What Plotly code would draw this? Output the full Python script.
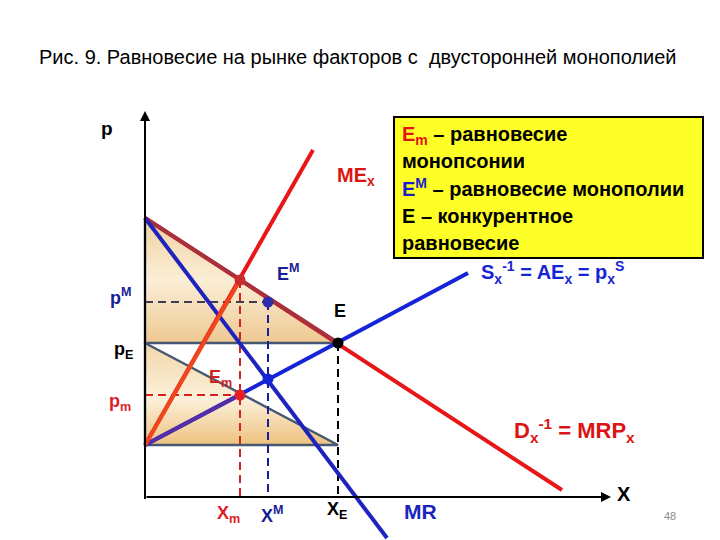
import plotly.graph_objects as go

# model values (x = quantity of factor, p = price); origin at the axes crossing
d_x = [0, 41.7]          # demand D^-1 = MRP
d_p = [27.9, 0.7]
mr_x = [0, 24.2]         # marginal revenue
mr_p = [27.9, -4.1]
s_x = [0, 32.3]          # supply S^-1 = AE
s_p = [5.2, 22.4]
mex_x = [0, 16.8]        # marginal expense
mex_p = [5.2, 34.7]

x_m, x_M, x_E = 9.5, 12.3, 19.3
p_m, p_M, p_E = 10.2, 19.5, 15.4
p_EM = 21.7              # point E^M on the demand curve
p_XM = 11.8              # crossing of MR and S
p_top, p_low = 27.9, 5.2

RED = "rgb(232,22,22)"
BLUE = "rgb(22,36,215)"
NAVY = "rgb(25,30,150)"
SLATE = "rgb(70,88,115)"
FONT = "Liberation Sans"
DASH = "8px,5px"

fig = go.Figure()


def line(xs, ys, color, width=4, dash=None):
    fig.add_trace(go.Scatter(x=xs, y=ys, mode="lines",
                             line=dict(color=color, width=width, dash=dash),
                             hoverinfo="skip", showlegend=False))


# shaded triangles
fig.add_trace(go.Scatter(x=[0, x_E, 0, 0], y=[p_top, p_E, p_E, p_top], mode="lines",
                         fill="toself", line=dict(color=SLATE, width=2.5),
                         fillgradient=dict(type="vertical", colorscale=[
                             [0, "rgb(238,200,146)"], [0.5, "rgb(251,238,214)"],
                             [1, "rgb(240,208,160)"]]),
                         hoverinfo="skip", showlegend=False))
fig.add_trace(go.Scatter(x=[0, x_E, 0, 0], y=[p_E, p_low, p_low, p_E], mode="lines",
                         fill="toself", line=dict(color=SLATE, width=2.5),
                         fillgradient=dict(type="vertical", colorscale=[
                             [0, "rgb(238,194,126)"], [0.45, "rgb(251,240,218)"],
                             [1, "rgb(242,214,168)"]]),
                         hoverinfo="skip", showlegend=False))

# axes
line([0, 0], [-0.2, p_low], "black", 2)

# dashed guides
line([0, x_M], [p_M, p_M], "rgb(60,60,80)", 2, DASH)
line([x_M, x_M], [p_M, 0], NAVY, 2, DASH)
line([x_m, x_m], [p_EM, 0], "rgb(220,30,30)", 2, DASH)
line([0, x_m], [p_m, p_m], "rgb(220,30,30)", 2, DASH)
line([x_E, x_E], [p_E, 0], "black", 2, DASH)

# curves
line(d_x, d_p, RED)
line([0, x_E], [p_top, p_E], "rgb(165,50,60)")
line(mr_x, mr_p, "rgb(30,35,190)")
line(s_x, s_p, BLUE)
line([0, x_m], [p_low, p_m], "rgb(85,45,165)")
line(mex_x, mex_p, RED)
line([0, x_m], [p_low, p_EM], "rgb(240,70,30)")

# equilibrium points
fig.add_trace(go.Scatter(
    x=[x_m, x_M, x_E, x_m, x_M], y=[p_EM, p_M, p_E, p_m, p_XM], mode="markers",
    marker=dict(size=11, color=["rgb(200,45,45)", "rgb(45,45,170)", "black",
                                "rgb(230,30,40)", BLUE]),
    hoverinfo="skip", showlegend=False))

ann = []


def label(x, y, text, color="black", size=18, xanchor="center", bold=True):
    ann.append(dict(x=x, y=y, xref="paper", yref="paper", text=text,
                    showarrow=False, xanchor=xanchor, yanchor="middle",
                    font=dict(family=FONT, size=size, color=color,
                              weight="bold" if bold else "normal")))


def px(x, y):
    return x / 720, 1 - y / 540


# axis arrows
ann.append(dict(x=0, y=38.6, ax=0, ay=0, xref="x", yref="y", axref="x", ayref="y",
                showarrow=True, arrowhead=2, arrowsize=1, arrowwidth=2,
                arrowcolor="black", text=""))
ann.append(dict(x=46.6, y=0, ax=0, ay=0, xref="x", yref="y", axref="x", ayref="y",
                showarrow=True, arrowhead=2, arrowsize=1, arrowwidth=2,
                arrowcolor="black", text=""))

label(*px(357, 57), "Рис. 9. Равновесие на рынке факторов с  двусторонней монополией",
      size=20, bold=False)
label(*px(107, 128), "p", size=19)
label(*px(121, 296), "p<sup>M</sup>", NAVY)
label(*px(123, 350), "p<sub>E</sub>")
label(*px(120, 402), "p<sub>m</sub>", "rgb(220,30,40)")
label(*px(288, 272), "E<sup>M</sup>", NAVY)
label(*px(340, 311), "E", size=18)
label(*px(220, 378), "E<sub>m</sub>", "rgb(210,30,30)")
label(*px(356, 176), "ME<sub>x</sub>", "rgb(220,20,20)", 20)
label(*px(228, 514), "X<sub>m</sub>", "rgb(220,30,40)")
label(*px(272, 514), "X<sup>M</sup>", NAVY)
label(*px(337, 510), "X<sub>E</sub>")
label(*px(420, 511), "MR", "rgb(25,35,190)", 21)
label(*px(624, 494), "X", size=20)
label(*px(670, 516), "48", "rgb(140,140,140)", 11, bold=False)
label(*px(574, 430), "D<sub>x</sub><sup>-1</sup> = MRP<sub>x</sub>", "rgb(220,20,20)", 22)
label(*px(552, 272), "S<sub>x</sub><sup>-1</sup> = AE<sub>x</sub> = p<sub>x</sub><sup>S</sup>",
      BLUE, 20)

# info box
bx0, by0 = px(394, 117)
bx1, by1 = px(703, 258)
fig.add_shape(type="rect", xref="paper", yref="paper", x0=bx0, y0=by0, x1=bx1, y1=by1,
              fillcolor="rgb(255,255,40)", line=dict(color="black", width=2))
box_lines = [
    '<span style="color:rgb(225,20,20)">E<sub>m</sub></span> – равновесие',
    "монопсонии",
    '<span style="color:rgb(25,30,200)">E<sup>M</sup></span> – равновесие монополии',
    "E – конкурентное",
    "равновесие",
]
box_y = [135, 161, 188, 216, 243]
for t, yy in zip(box_lines, box_y):
    label(*px(400, yy), t, size=20, xanchor="left")

fig.update_layout(
    width=720, height=540, margin=dict(l=0, r=0, t=0, b=0),
    paper_bgcolor="white", plot_bgcolor="white",
    xaxis=dict(range=[-14.5, 57.5], visible=False, fixedrange=True),
    yaxis=dict(range=[-4.3, 49.7], visible=False, fixedrange=True),
    annotations=ann, showlegend=False,
)

fig.write_html("out.html", config={"displayModeBar": False},
               post_script="document.body.style.margin = '0';")
